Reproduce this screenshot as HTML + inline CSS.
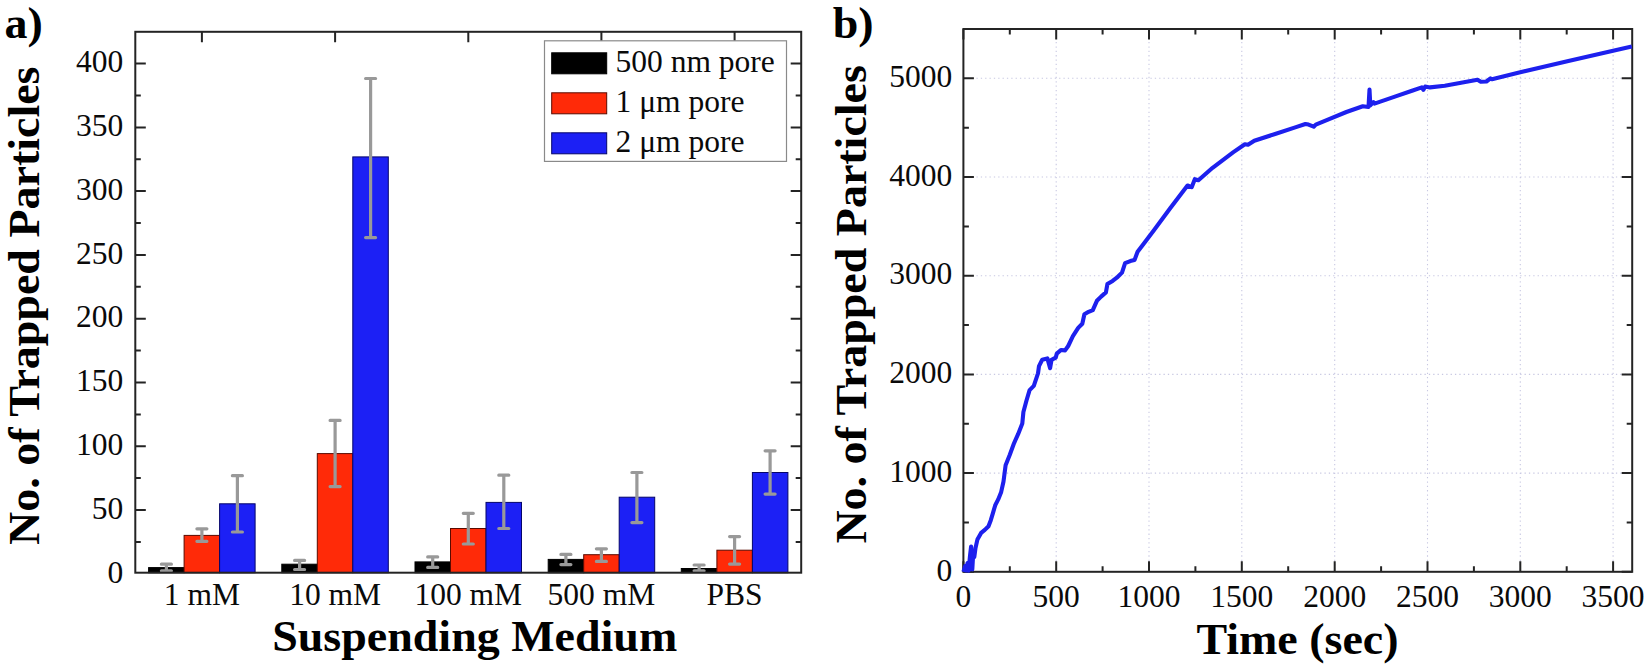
<!DOCTYPE html>
<html lang="en"><head><meta charset="utf-8"><title>Trapped particles figure</title>
<style>html,body{margin:0;padding:0;background:#fff}body{width:1650px;height:671px;overflow:hidden}svg{display:block}text{font-family:"Liberation Serif","DejaVu Serif",serif;fill:#0a0a0a}.t{font-size:31.5px}.b{font-size:44px;font-weight:bold;fill:#000}</style></head><body>
<svg width="1650" height="671" viewBox="0 0 1650 671">
<rect width="1650" height="671" fill="#fff"/>
<g id="chart-a">
<rect x="148.6" y="567.6" width="35.5" height="5.1" fill="#000000" stroke="#000000" stroke-width="1"/>
<rect x="184.1" y="535.4" width="35.5" height="37.3" fill="#ff2a08" stroke="#5a0a00" stroke-width="1"/>
<rect x="219.6" y="503.8" width="35.5" height="68.9" fill="#1c20f5" stroke="#05056a" stroke-width="1"/>
<rect x="281.8" y="564.2" width="35.5" height="8.5" fill="#000000" stroke="#000000" stroke-width="1"/>
<rect x="317.3" y="453.6" width="35.5" height="119.1" fill="#ff2a08" stroke="#5a0a00" stroke-width="1"/>
<rect x="352.8" y="156.9" width="35.5" height="415.8" fill="#1c20f5" stroke="#05056a" stroke-width="1"/>
<rect x="415.0" y="561.9" width="35.5" height="10.8" fill="#000000" stroke="#000000" stroke-width="1"/>
<rect x="450.5" y="528.5" width="35.5" height="44.2" fill="#ff2a08" stroke="#5a0a00" stroke-width="1"/>
<rect x="486.0" y="502.4" width="35.5" height="70.3" fill="#1c20f5" stroke="#05056a" stroke-width="1"/>
<rect x="548.2" y="559.4" width="35.5" height="13.3" fill="#000000" stroke="#000000" stroke-width="1"/>
<rect x="583.7" y="554.7" width="35.5" height="18.0" fill="#ff2a08" stroke="#5a0a00" stroke-width="1"/>
<rect x="619.2" y="497.2" width="35.5" height="75.5" fill="#1c20f5" stroke="#05056a" stroke-width="1"/>
<rect x="681.3" y="568.5" width="35.5" height="4.2" fill="#000000" stroke="#000000" stroke-width="1"/>
<rect x="716.9" y="550.2" width="35.5" height="22.5" fill="#ff2a08" stroke="#5a0a00" stroke-width="1"/>
<rect x="752.4" y="472.5" width="35.5" height="100.2" fill="#1c20f5" stroke="#05056a" stroke-width="1"/>
<g stroke="#999999" stroke-width="3.2" stroke-linecap="round" fill="none">
<path d="M166.4 564.2V570.8M161.4 564.2h10M161.4 570.8h10"/>
<path d="M201.9 528.8V541.3M196.9 528.8h10M196.9 541.3h10"/>
<path d="M237.4 475.7V532.0M232.4 475.7h10M232.4 532.0h10"/>
<path d="M299.6 560.4V569.5M294.6 560.4h10M294.6 569.5h10"/>
<path d="M335.1 420.4V486.6M330.1 420.4h10M330.1 486.6h10"/>
<path d="M370.6 78.5V237.6M365.6 78.5h10M365.6 237.6h10"/>
<path d="M432.7 556.9V567.4M427.7 556.9h10M427.7 567.4h10"/>
<path d="M468.3 513.3V544.0M463.3 513.3h10M463.3 544.0h10"/>
<path d="M503.8 475.2V528.5M498.8 475.2h10M498.8 528.5h10"/>
<path d="M565.9 554.4V564.6M560.9 554.4h10M560.9 564.6h10"/>
<path d="M601.4 548.8V561.4M596.4 548.8h10M596.4 561.4h10"/>
<path d="M636.9 472.5V522.6M631.9 472.5h10M631.9 522.6h10"/>
<path d="M699.1 565.0V570.8M694.1 565.0h10M694.1 570.8h10"/>
<path d="M734.6 536.6V564.1M729.6 536.6h10M729.6 564.1h10"/>
<path d="M770.1 450.8V494.1M765.1 450.8h10M765.1 494.1h10"/>
</g>
<g stroke="#242424" stroke-width="2" fill="none">
<rect x="135.3" y="31.8" width="665.9" height="540.9"/>
<path d="M135.3 541.9h5.5M801.2 541.9h-5.5M135.3 510.0h10.5M801.2 510.0h-10.5M135.3 478.1h5.5M801.2 478.1h-5.5M135.3 446.2h10.5M801.2 446.2h-10.5M135.3 414.4h5.5M801.2 414.4h-5.5M135.3 382.5h10.5M801.2 382.5h-10.5M135.3 350.6h5.5M801.2 350.6h-5.5M135.3 318.7h10.5M801.2 318.7h-10.5M135.3 286.8h5.5M801.2 286.8h-5.5M135.3 254.9h10.5M801.2 254.9h-10.5M135.3 223.0h5.5M801.2 223.0h-5.5M135.3 191.1h10.5M801.2 191.1h-10.5M135.3 159.3h5.5M801.2 159.3h-5.5M135.3 127.4h10.5M801.2 127.4h-10.5M135.3 95.5h5.5M801.2 95.5h-5.5M135.3 63.6h10.5M801.2 63.6h-10.5M201.9 31.8v10.5M335.1 31.8v10.5M468.3 31.8v10.5M601.4 31.8v10.5M734.6 31.8v10.5"/>
</g>
<g class="t" text-anchor="end">
<text x="123.3" y="582.5">0</text>
<text x="123.3" y="518.7">50</text>
<text x="123.3" y="454.9">100</text>
<text x="123.3" y="391.2">150</text>
<text x="123.3" y="327.4">200</text>
<text x="123.3" y="263.6">250</text>
<text x="123.3" y="199.8">300</text>
<text x="123.3" y="136.1">350</text>
<text x="123.3" y="72.3">400</text>
</g>
<g class="t" text-anchor="middle">
<text x="201.9" y="604.5">1 mM</text>
<text x="335.1" y="604.5">10 mM</text>
<text x="468.3" y="604.5">100 mM</text>
<text x="601.4" y="604.5">500 mM</text>
<text x="734.6" y="604.5">PBS</text>
</g>
<rect x="544.5" y="40.8" width="242" height="120.6" fill="#fff" stroke="#8a8a8a" stroke-width="1.2"/>
<rect x="551.7" y="52.8" width="55" height="21" fill="#000000" stroke="#000000" stroke-width="1"/>
<text class="t" x="615.6" y="71.6">500 nm pore</text>
<rect x="551.7" y="92.8" width="55" height="21" fill="#ff2a08" stroke="#5a0a00" stroke-width="1"/>
<text class="t" x="615.6" y="111.6">1 μm pore</text>
<rect x="551.7" y="132.8" width="55" height="21" fill="#1c20f5" stroke="#05056a" stroke-width="1"/>
<text class="t" x="615.6" y="151.6">2 μm pore</text>
<text class="b" transform="translate(4.5 37.8) scale(1.045 1)">a)</text>
<text class="b" transform="translate(38.5 545) rotate(-90) scale(1.045 1)">No. of Trapped Particles</text>
<text class="b" text-anchor="middle" transform="translate(474.7 650.7) scale(1.045 1)">Suspending Medium</text>
</g>
<g id="chart-b">
<path d="M1056.2 29.0V571.8M1149.0 29.0V571.8M1241.8 29.0V571.8M1334.7 29.0V571.8M1427.5 29.0V571.8M1520.3 29.0V571.8M1613.1 29.0V571.8M963.4 473.1H1632.2M963.4 374.4H1632.2M963.4 275.7H1632.2M963.4 177.0H1632.2M963.4 78.3H1632.2" stroke="#c8c8e2" stroke-width="1.1" stroke-dasharray="1.3 3.05" fill="none"/>
<g stroke="#242424" stroke-width="2" fill="none">
<rect x="963.4" y="29.0" width="668.8" height="542.8"/>
<path d="M963.4 571.8v-10.5M963.4 29.0v10.5M1009.8 571.8v-5.5M1009.8 29.0v5.5M1056.2 571.8v-10.5M1056.2 29.0v10.5M1102.6 571.8v-5.5M1102.6 29.0v5.5M1149.0 571.8v-10.5M1149.0 29.0v10.5M1195.4 571.8v-5.5M1195.4 29.0v5.5M1241.8 571.8v-10.5M1241.8 29.0v10.5M1288.2 571.8v-5.5M1288.2 29.0v5.5M1334.7 571.8v-10.5M1334.7 29.0v10.5M1381.1 571.8v-5.5M1381.1 29.0v5.5M1427.5 571.8v-10.5M1427.5 29.0v10.5M1473.9 571.8v-5.5M1473.9 29.0v5.5M1520.3 571.8v-10.5M1520.3 29.0v10.5M1566.7 571.8v-5.5M1566.7 29.0v5.5M1613.1 571.8v-10.5M1613.1 29.0v10.5M963.4 571.8h10.5M1632.2 571.8h-10.5M963.4 522.5h5.5M1632.2 522.5h-5.5M963.4 473.1h10.5M1632.2 473.1h-10.5M963.4 423.8h5.5M1632.2 423.8h-5.5M963.4 374.4h10.5M1632.2 374.4h-10.5M963.4 325.1h5.5M1632.2 325.1h-5.5M963.4 275.7h10.5M1632.2 275.7h-10.5M963.4 226.4h5.5M1632.2 226.4h-5.5M963.4 177.0h10.5M1632.2 177.0h-10.5M963.4 127.7h5.5M1632.2 127.7h-5.5M963.4 78.3h10.5M1632.2 78.3h-10.5M963.4 29.0h5.5M1632.2 29.0h-5.5"/>
</g>
<polyline fill="none" stroke="#1d20ee" stroke-width="4.1" stroke-linejoin="round" stroke-linecap="butt" points="963.4,571.8 965.2,566.0 966.4,570.5 967.5,563.0 968.6,570.8 970.0,556.0 971.1,546.5 972.3,569.5 973.3,552.0 974.3,557.0 975.5,548.0 977.4,539.6 981.1,532.9 984.8,529.9 988.5,526.2 990.8,520.2 993.0,512.8 995.2,505.3 998.2,499.4 1001.2,491.9 1003.5,481.5 1005.6,465.2 1009.8,454.8 1014.0,443.3 1018.2,433.9 1022.3,423.5 1023.4,412.0 1026.5,400.5 1029.6,390.1 1033.8,385.9 1038.0,373.4 1039.0,366.1 1042.2,359.8 1047.4,358.4 1050.1,368.2 1051.5,359.8 1055.7,357.7 1056.8,353.6 1060.9,350.0 1065.1,350.4 1068.2,346.0 1072.9,336.2 1078.2,327.9 1082.3,323.7 1084.4,314.3 1088.6,311.8 1092.8,310.1 1096.9,300.8 1101.1,296.6 1105.9,292.4 1107.4,284.1 1112.6,280.9 1117.8,276.8 1122.0,272.6 1125.1,263.2 1130.3,261.1 1134.5,260.1 1137.6,251.7 1143.9,243.4 1154.3,229.8 1170.0,208.5 1187.5,185.5 1191.7,187.2 1194.8,179.2 1198.4,180.3 1212.6,167.8 1233.4,152.1 1244.9,144.2 1248.0,144.8 1254.3,140.7 1275.1,134.0 1296.0,127.1 1305.4,124.0 1308.5,124.6 1313.7,126.7 1315.8,124.6 1327.3,119.8 1346.4,112.0 1362.8,106.2 1368.5,107.0 1369.5,89.5 1370.3,105.4 1373.4,102.1 1374.5,103.6 1395.6,96.4 1412.0,90.7 1421.8,87.4 1423.4,89.8 1425.1,86.6 1430.0,87.4 1444.8,85.7 1461.1,82.8 1477.5,79.7 1480.8,81.8 1486.4,81.5 1490.5,78.4 1492.0,79.3 1519.2,72.4 1568.4,61.0 1617.5,49.7 1631.8,46.4"/>
<g class="t" text-anchor="end">
<text x="952.3" y="580.5">0</text>
<text x="952.3" y="481.8">1000</text>
<text x="952.3" y="383.1">2000</text>
<text x="952.3" y="284.4">3000</text>
<text x="952.3" y="185.7">4000</text>
<text x="952.3" y="87.0">5000</text>
</g>
<g class="t" text-anchor="middle">
<text x="963.4" y="607.2">0</text>
<text x="1056.2" y="607.2">500</text>
<text x="1149.0" y="607.2">1000</text>
<text x="1241.8" y="607.2">1500</text>
<text x="1334.7" y="607.2">2000</text>
<text x="1427.5" y="607.2">2500</text>
<text x="1520.3" y="607.2">3000</text>
<text x="1613.1" y="607.2">3500</text>
</g>
<text class="b" transform="translate(832.8 38) scale(1.045 1)">b)</text>
<text class="b" transform="translate(866 543.6) rotate(-90) scale(1.045 1)">No. of Trapped Particles</text>
<text class="b" text-anchor="middle" transform="translate(1297.5 654.2) scale(1.045 1)">Time (sec)</text>
</g>
</svg></body></html>
